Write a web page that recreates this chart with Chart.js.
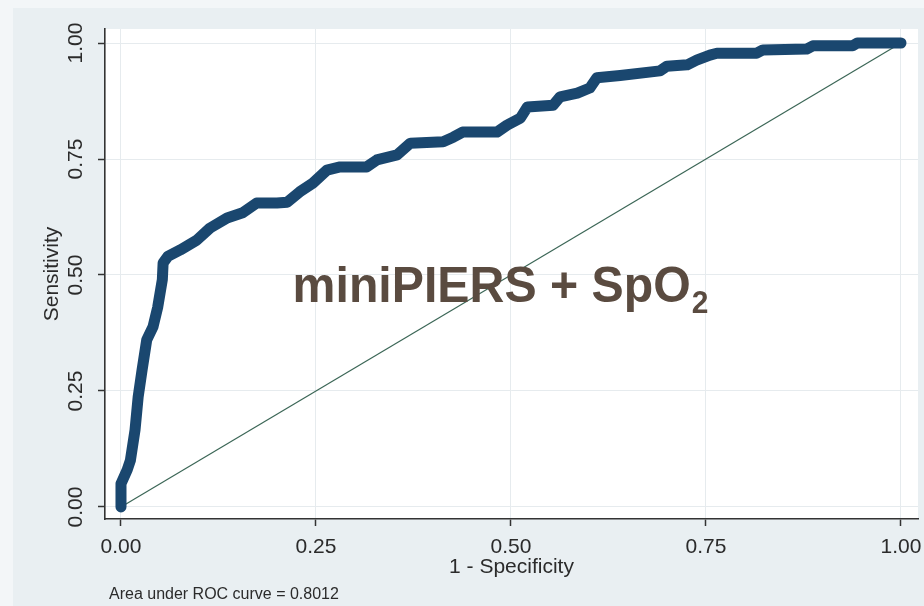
<!DOCTYPE html>
<html>
<head>
<meta charset="utf-8">
<title>ROC curve</title>
<script src="https://cdn.jsdelivr.net/npm/chart.js@4.4.1/dist/chart.umd.min.js"></script>
<style>
  html, body { margin: 0; padding: 0; background: #f3f6f8; }
  canvas { display: block; }
</style>
</head>
<body>
<canvas id="roc" width="924" height="606"></canvas>
<script>
// ROC curve points: 1 - specificity (x) and sensitivity (y)
const fpr = [0, 0, 0.008, 0.012, 0.018, 0.022, 0.027, 0.033, 0.041, 0.047, 0.053, 0.054, 0.060,
  0.076, 0.097, 0.114, 0.136, 0.156, 0.174, 0.200, 0.213, 0.229, 0.246, 0.264, 0.281, 0.315,
  0.328, 0.354, 0.371, 0.413, 0.426, 0.438, 0.482, 0.495, 0.512, 0.521, 0.554, 0.563, 0.585,
  0.601, 0.610, 0.640, 0.691, 0.700, 0.726, 0.738, 0.755, 0.764, 0.815, 0.823, 0.879, 0.887,
  0.938, 0.944, 1.000];
const tpr = [0, 0.050, 0.080, 0.100, 0.166, 0.237, 0.295, 0.360, 0.388, 0.430, 0.490, 0.526, 0.540,
  0.554, 0.575, 0.601, 0.623, 0.634, 0.655, 0.655, 0.657, 0.679, 0.698, 0.726, 0.733, 0.733,
  0.748, 0.759, 0.784, 0.787, 0.797, 0.808, 0.808, 0.823, 0.838, 0.862, 0.866, 0.884, 0.892,
  0.903, 0.925, 0.930, 0.940, 0.950, 0.953, 0.963, 0.974, 0.978, 0.978, 0.985, 0.987, 0.994,
  0.994, 1.000, 1.000];

// Chance (no-discrimination) reference line
const refX = [0, 1];
const refY = [0, 1];

// Axis ticks and text
const tickValues = [0, 0.25, 0.5, 0.75, 1];
const tickLabels = ['0.00', '0.25', '0.50', '0.75', '1.00'];
const xTitle = '1 - Specificity';
const yTitle = 'Sensitivity';
const aucNote = 'Area under ROC curve = 0.8012';
const modelName = 'miniPIERS + SpO';
const modelSub = '2';

const FONT = "'Liberation Sans', Arial, Helvetica, sans-serif";
const TEXT = '#2b2b2b';

const stataFrame = {
  id: 'stataFrame',
  beforeDraw(chart) {
    const { ctx, chartArea: a, width, height } = chart;
    ctx.save();
    ctx.fillStyle = '#f3f6f8';
    ctx.fillRect(0, 0, width, height);
    ctx.fillStyle = '#e9eff2';
    ctx.fillRect(13, 8, width - 13, height - 8);
    ctx.fillStyle = '#ffffff';
    ctx.fillRect(a.left, a.top, a.right - a.left, a.bottom - a.top);
    ctx.restore();
  },
  afterDraw(chart) {
    const { ctx, chartArea: a } = chart;
    const xs = chart.scales.x, ys = chart.scales.y;
    ctx.save();
    ctx.fillStyle = TEXT;

    // x tick labels
    ctx.font = '21px ' + FONT;
    ctx.textAlign = 'center';
    ctx.textBaseline = 'middle';
    tickValues.forEach((v, i) => {
      ctx.fillText(tickLabels[i], xs.getPixelForValue(v), a.bottom + 28);
    });

    // y tick labels, rotated
    tickValues.forEach((v, i) => {
      ctx.save();
      ctx.translate(a.left - 29, ys.getPixelForValue(v));
      ctx.rotate(-Math.PI / 2);
      ctx.fillText(tickLabels[i], 0, 0);
      ctx.restore();
    });

    // axis titles
    ctx.font = '21px ' + FONT;
    ctx.textBaseline = 'alphabetic';
    ctx.fillText(xTitle, (a.left + a.right) / 2, a.bottom + 54);
    ctx.save();
    ctx.translate(a.left - 47, (a.top + a.bottom) / 2);
    ctx.rotate(-Math.PI / 2);
    ctx.fillText(yTitle, 0, 0);
    ctx.restore();

    // note
    ctx.font = '16px ' + FONT;
    ctx.textAlign = 'left';
    ctx.fillText(aucNote, 109, 599);

    // model label (slightly condensed)
    ctx.fillStyle = '#5a4b40';
    const lx = xs.getPixelForValue(0.22);
    const ly = ys.getPixelForValue(0.442);
    ctx.save();
    ctx.translate(lx, ly);
    ctx.scale(0.965, 1);
    ctx.font = 'bold 50px ' + FONT;
    ctx.fillText(modelName, 0, 0);
    const w = ctx.measureText(modelName).width;
    ctx.font = 'bold 31px ' + FONT;
    ctx.fillText(modelSub, w + 1, 11);
    ctx.restore();
    ctx.restore();
  }
};

const setTicks = s => { s.ticks = tickValues.map(v => ({ value: v })); };

new Chart(document.getElementById('roc'), {
  type: 'scatter',
  data: {
    datasets: [
      {
        label: 'ROC',
        data: fpr.map((x, i) => ({ x, y: tpr[i] })),
        showLine: true,
        borderColor: '#1a476f',
        backgroundColor: '#1a476f',
        borderWidth: 11,
        borderJoinStyle: 'round',
        borderCapStyle: 'round',
        pointRadius: 0,
        tension: 0,
        order: 0
      },
      {
        label: 'Reference',
        data: refX.map((x, i) => ({ x, y: refY[i] })),
        showLine: true,
        borderColor: '#3b6656',
        borderWidth: 1.2,
        pointRadius: 0,
        order: 1
      }
    ]
  },
  options: {
    responsive: false,
    animation: false,
    devicePixelRatio: 1,
    events: [],
    layout: { padding: { left: 0, top: 29, right: 6, bottom: 0 } },
    plugins: { legend: { display: false }, tooltip: { enabled: false } },
    scales: {
      x: {
        type: 'linear',
        min: -0.0205,
        max: 1.0218,
        afterBuildTicks: setTicks,
        afterFit: s => { s.height = 87; },
        ticks: { display: false },
        grid: { color: '#e6ebee', lineWidth: 1, drawTicks: true, tickLength: 7, tickColor: '#333333', tickWidth: 1.5 },
        border: { display: true, color: '#333333', width: 1.6 }
      },
      y: {
        type: 'linear',
        min: -0.0259,
        max: 1.0302,
        afterBuildTicks: setTicks,
        afterFit: s => { s.width = 105; },
        ticks: { display: false },
        grid: { color: '#e6ebee', lineWidth: 1, drawTicks: true, tickLength: 7, tickColor: '#333333', tickWidth: 1.5 },
        border: { display: true, color: '#333333', width: 1.6 }
      }
    }
  },
  plugins: [stataFrame]
});
</script>
</body>
</html>
